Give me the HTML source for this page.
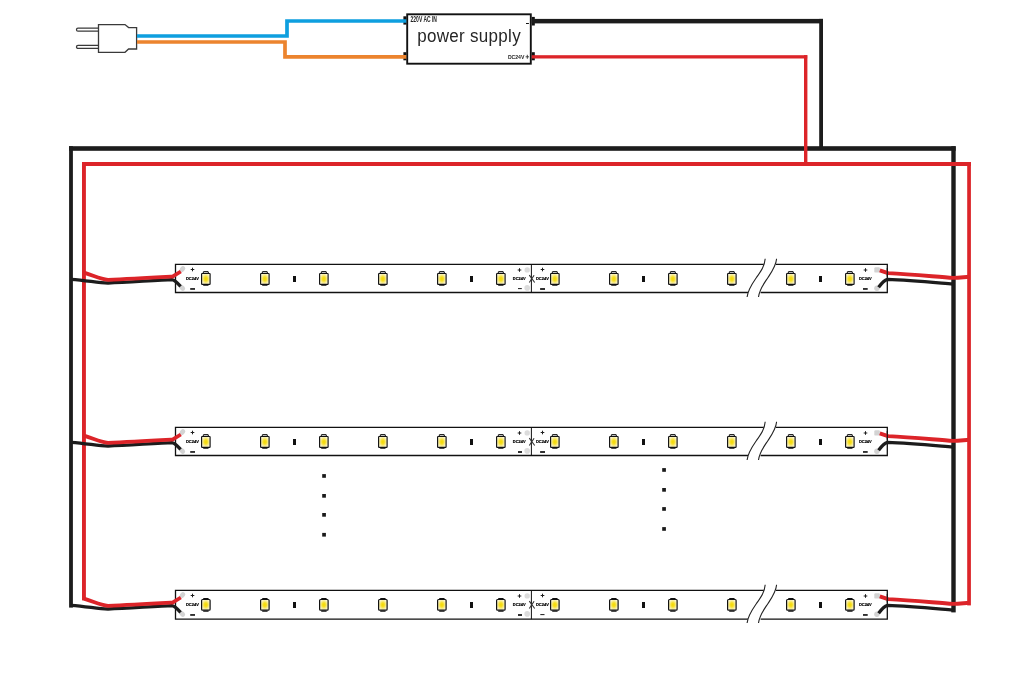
<!DOCTYPE html>
<html><head><meta charset="utf-8"><style>
html,body{margin:0;padding:0;background:#fff;}
svg{display:block;will-change:transform;font-family:"Liberation Sans",sans-serif;}
</style></head><body>
<svg width="1019" height="681" viewBox="0 0 1019 681">
<defs>
<radialGradient id="ly" cx="0.5" cy="0.5" r="0.62">
<stop offset="0" stop-color="#f5d800"/><stop offset="0.3" stop-color="#f6df24"/><stop offset="0.58" stop-color="#f9ec8c"/><stop offset="0.82" stop-color="#fcf6cf"/><stop offset="1" stop-color="#fefbea"/>
</radialGradient>

</defs>
<rect width="1019" height="681" fill="#fff"/>
<!-- plug -->
<path d="M98.5,28.2 H78 A1.5,1.5 0 0 0 78,31.2 H98.5 M98.5,45.4 H78 A1.5,1.5 0 0 0 78,48.4 H98.5" fill="#fff" stroke="#3a3a3a" stroke-width="1.3"/>
<path d="M98.5,24.6 H125 L128.6,27.6 H136.6 V49 H128.6 L125,52.3 H98.5 Z" fill="#fff" stroke="#3a3a3a" stroke-width="1.3"/>
<!-- psu box -->
<rect x="407.2" y="14.3" width="123.6" height="49.4" fill="#fff" stroke="#111" stroke-width="1.9"/>
<rect x="403.4" y="16.3" width="3" height="8.3" fill="#111"/>
<rect x="403.4" y="52.2" width="3" height="8.1" fill="#111"/>
<rect x="531.8" y="16.9" width="3" height="8.6" fill="#111"/>
<rect x="531.8" y="52.2" width="3" height="8.1" fill="#111"/>
<!-- ac wires -->
<path d="M137,36 H287 V21 H406.3" fill="none" stroke="#0e9fdf" stroke-width="3.7"/>
<path d="M137,42 H285 V56.9 H406.3" fill="none" stroke="#ec842e" stroke-width="3.7"/>
<!-- dc wires & frame -->
<g fill="#1c1c1c">
<rect x="531.7" y="18.9" width="291.3" height="4.5"/>
<rect x="819.2" y="18.9" width="3.8" height="129"/>
<rect x="69" y="146.2" width="886.7" height="4.6"/>
<rect x="69.1" y="146.2" width="3.8" height="461.4"/>
<rect x="951.3" y="146.2" width="4.4" height="466.2"/>
</g>
<g fill="#dc2429">
<rect x="531.7" y="55.2" width="275.5" height="3.3"/>
<rect x="804" y="55.1" width="3.4" height="109"/>
<rect x="82" y="162" width="888.9" height="4"/>
<rect x="82" y="162" width="3.9" height="438.4"/>
<rect x="967.2" y="162" width="3.7" height="443.4"/>
</g>
<text x="410.6" y="21.6" font-size="8.2" font-weight="bold" fill="#222" textLength="26.3" lengthAdjust="spacingAndGlyphs">220V AC IN</text>
<text x="417.2" y="0" font-size="17" fill="#262626" textLength="103.5" lengthAdjust="spacing" transform="translate(0,42) scale(1,1.05)">power supply</text>
<rect x="526" y="23" width="2.9" height="1" fill="#111"/>
<text x="507.9" y="59" font-size="5.2" font-weight="bold" fill="#222" textLength="16.5" lengthAdjust="spacingAndGlyphs">DC24V</text>
<path d="M525.6,56.8 H529 M527.3,54.8 V58.8" stroke="#333" stroke-width="0.9"/>
<!-- strips -->
<g>
<path d="M175.5,264.4 H763.8 M775.7,264.4 H887.3 M887.3,263.75 V293.15 M887.3,292.5 H760.6 M748.3,292.5 H175.5 M175.5,293.15 V263.75" fill="none" stroke="#111" stroke-width="1.3"/>
<path d="M531.4,264.4 V292.5" stroke="#111" stroke-width="1"/>
<rect x="203.3" y="271.6" width="5.0" height="1.7" rx="0.3" fill="#fff" stroke="#111" stroke-width="1"/><rect x="201.6" y="273.5" width="8.5" height="10.8" rx="0.6" fill="url(#ly)" stroke="#111" stroke-width="1.15"/><rect x="203.2" y="284.4" width="5.3" height="1.3" rx="0.3" fill="#111"/>
<rect x="262.3" y="271.6" width="5.0" height="1.7" rx="0.3" fill="#fff" stroke="#111" stroke-width="1"/><rect x="260.6" y="273.5" width="8.5" height="10.8" rx="0.6" fill="url(#ly)" stroke="#111" stroke-width="1.15"/><rect x="262.2" y="284.4" width="5.3" height="1.3" rx="0.3" fill="#111"/>
<rect x="321.3" y="271.6" width="5.0" height="1.7" rx="0.3" fill="#fff" stroke="#111" stroke-width="1"/><rect x="319.6" y="273.5" width="8.5" height="10.8" rx="0.6" fill="url(#ly)" stroke="#111" stroke-width="1.15"/><rect x="321.2" y="284.4" width="5.3" height="1.3" rx="0.3" fill="#111"/>
<rect x="380.3" y="271.6" width="5.0" height="1.7" rx="0.3" fill="#fff" stroke="#111" stroke-width="1"/><rect x="378.6" y="273.5" width="8.5" height="10.8" rx="0.6" fill="url(#ly)" stroke="#111" stroke-width="1.15"/><rect x="380.2" y="284.4" width="5.3" height="1.3" rx="0.3" fill="#111"/>
<rect x="439.3" y="271.6" width="5.0" height="1.7" rx="0.3" fill="#fff" stroke="#111" stroke-width="1"/><rect x="437.6" y="273.5" width="8.5" height="10.8" rx="0.6" fill="url(#ly)" stroke="#111" stroke-width="1.15"/><rect x="439.2" y="284.4" width="5.3" height="1.3" rx="0.3" fill="#111"/>
<rect x="498.3" y="271.6" width="5.0" height="1.7" rx="0.3" fill="#fff" stroke="#111" stroke-width="1"/><rect x="496.6" y="273.5" width="8.5" height="10.8" rx="0.6" fill="url(#ly)" stroke="#111" stroke-width="1.15"/><rect x="498.2" y="284.4" width="5.3" height="1.3" rx="0.3" fill="#111"/>
<rect x="552.3" y="271.6" width="5.0" height="1.7" rx="0.3" fill="#fff" stroke="#111" stroke-width="1"/><rect x="550.6" y="273.5" width="8.5" height="10.8" rx="0.6" fill="url(#ly)" stroke="#111" stroke-width="1.15"/><rect x="552.2" y="284.4" width="5.3" height="1.3" rx="0.3" fill="#111"/>
<rect x="611.3" y="271.6" width="5.0" height="1.7" rx="0.3" fill="#fff" stroke="#111" stroke-width="1"/><rect x="609.6" y="273.5" width="8.5" height="10.8" rx="0.6" fill="url(#ly)" stroke="#111" stroke-width="1.15"/><rect x="611.2" y="284.4" width="5.3" height="1.3" rx="0.3" fill="#111"/>
<rect x="670.3" y="271.6" width="5.0" height="1.7" rx="0.3" fill="#fff" stroke="#111" stroke-width="1"/><rect x="668.6" y="273.5" width="8.5" height="10.8" rx="0.6" fill="url(#ly)" stroke="#111" stroke-width="1.15"/><rect x="670.2" y="284.4" width="5.3" height="1.3" rx="0.3" fill="#111"/>
<rect x="729.3" y="271.6" width="5.0" height="1.7" rx="0.3" fill="#fff" stroke="#111" stroke-width="1"/><rect x="727.6" y="273.5" width="8.5" height="10.8" rx="0.6" fill="url(#ly)" stroke="#111" stroke-width="1.15"/><rect x="729.2" y="284.4" width="5.3" height="1.3" rx="0.3" fill="#111"/>
<rect x="788.3" y="271.6" width="5.0" height="1.7" rx="0.3" fill="#fff" stroke="#111" stroke-width="1"/><rect x="786.6" y="273.5" width="8.5" height="10.8" rx="0.6" fill="url(#ly)" stroke="#111" stroke-width="1.15"/><rect x="788.2" y="284.4" width="5.3" height="1.3" rx="0.3" fill="#111"/>
<rect x="847.3" y="271.6" width="5.0" height="1.7" rx="0.3" fill="#fff" stroke="#111" stroke-width="1"/><rect x="845.6" y="273.5" width="8.5" height="10.8" rx="0.6" fill="url(#ly)" stroke="#111" stroke-width="1.15"/><rect x="847.2" y="284.4" width="5.3" height="1.3" rx="0.3" fill="#111"/>
<rect x="293" y="276" width="3" height="6" fill="#111"/>
<rect x="470" y="276" width="3" height="6" fill="#111"/>
<rect x="642" y="276" width="3" height="6" fill="#111"/>
<rect x="819" y="276" width="3" height="6" fill="#111"/>
<circle cx="527.2" cy="269.9" r="2.7" fill="#dcdcdc"/><circle cx="527.2" cy="287.9" r="2.8" fill="#dcdcdc"/>
<path d="M190.7,269.5 H194.3 M192.5,267.7 V271.3" stroke="#1e1e1e" stroke-width="1"/>
<rect x="190.2" y="288.1" width="4.8" height="1.7" fill="#1a1a1a"/>
<text x="186" y="280.3" font-size="4.4" font-weight="bold" fill="#000" stroke="#000" stroke-width="0.2" textLength="12.8" lengthAdjust="spacingAndGlyphs">DC24V</text>
<path d="M517.7,270 H521.3 M519.5,268.2 V271.8" stroke="#1e1e1e" stroke-width="1"/>
<rect x="518" y="288.1" width="3.8" height="1.0" fill="#1a1a1a"/>
<text x="512.8" y="280.3" font-size="4.4" font-weight="bold" fill="#000" stroke="#000" stroke-width="0.2" textLength="12.8" lengthAdjust="spacingAndGlyphs">DC24V</text>
<path d="M540.7,269.5 H544.3 M542.5,267.7 V271.3" stroke="#1e1e1e" stroke-width="1"/>
<rect x="540.1" y="288.1" width="4.9" height="1.8" fill="#1a1a1a"/>
<text x="536" y="280.3" font-size="4.4" font-weight="bold" fill="#000" stroke="#000" stroke-width="0.2" textLength="12.8" lengthAdjust="spacingAndGlyphs">DC24V</text>
<path d="M863.7,270 H867.3 M865.5,268.2 V271.8" stroke="#1e1e1e" stroke-width="1"/>
<rect x="863" y="288.1" width="4.7" height="1.7" fill="#1a1a1a"/>
<text x="858.9" y="280.3" font-size="4.4" font-weight="bold" fill="#000" stroke="#000" stroke-width="0.2" textLength="12.8" lengthAdjust="spacingAndGlyphs">DC24V</text>
<path d="M529.3,275.2 L534.7,282.5 M534.1,275.2 L529.3,282.5" stroke="#333" stroke-width="1.1"/>
<path d="M765.2,258.8 C764.6,266 761,271 756.5,277.5 S748.2,289 747.1,297 L758.5,297 C759.6,289 763.6,283 768,277.5 S776,266 776.6,258.8 Z" fill="#fff" stroke="none"/>
<path d="M765.2,258.8 C764.6,266 761,271 756.5,277.5 S748.2,289 747.1,297 M776.6,258.8 C776,266 772.4,271 768,277.5 S759.6,289 758.5,297" fill="none" stroke="#222" stroke-width="1.1"/>
</g>
<g transform="translate(0,163)">
<path d="M175.5,264.4 H763.8 M775.7,264.4 H887.3 M887.3,263.75 V293.15 M887.3,292.5 H760.6 M748.3,292.5 H175.5 M175.5,293.15 V263.75" fill="none" stroke="#111" stroke-width="1.3"/>
<path d="M531.4,264.4 V292.5" stroke="#111" stroke-width="1"/>
<rect x="203.3" y="271.6" width="5.0" height="1.7" rx="0.3" fill="#fff" stroke="#111" stroke-width="1"/><rect x="201.6" y="273.5" width="8.5" height="10.8" rx="0.6" fill="url(#ly)" stroke="#111" stroke-width="1.15"/><rect x="203.2" y="284.4" width="5.3" height="1.3" rx="0.3" fill="#111"/>
<rect x="262.3" y="271.6" width="5.0" height="1.7" rx="0.3" fill="#fff" stroke="#111" stroke-width="1"/><rect x="260.6" y="273.5" width="8.5" height="10.8" rx="0.6" fill="url(#ly)" stroke="#111" stroke-width="1.15"/><rect x="262.2" y="284.4" width="5.3" height="1.3" rx="0.3" fill="#111"/>
<rect x="321.3" y="271.6" width="5.0" height="1.7" rx="0.3" fill="#fff" stroke="#111" stroke-width="1"/><rect x="319.6" y="273.5" width="8.5" height="10.8" rx="0.6" fill="url(#ly)" stroke="#111" stroke-width="1.15"/><rect x="321.2" y="284.4" width="5.3" height="1.3" rx="0.3" fill="#111"/>
<rect x="380.3" y="271.6" width="5.0" height="1.7" rx="0.3" fill="#fff" stroke="#111" stroke-width="1"/><rect x="378.6" y="273.5" width="8.5" height="10.8" rx="0.6" fill="url(#ly)" stroke="#111" stroke-width="1.15"/><rect x="380.2" y="284.4" width="5.3" height="1.3" rx="0.3" fill="#111"/>
<rect x="439.3" y="271.6" width="5.0" height="1.7" rx="0.3" fill="#fff" stroke="#111" stroke-width="1"/><rect x="437.6" y="273.5" width="8.5" height="10.8" rx="0.6" fill="url(#ly)" stroke="#111" stroke-width="1.15"/><rect x="439.2" y="284.4" width="5.3" height="1.3" rx="0.3" fill="#111"/>
<rect x="498.3" y="271.6" width="5.0" height="1.7" rx="0.3" fill="#fff" stroke="#111" stroke-width="1"/><rect x="496.6" y="273.5" width="8.5" height="10.8" rx="0.6" fill="url(#ly)" stroke="#111" stroke-width="1.15"/><rect x="498.2" y="284.4" width="5.3" height="1.3" rx="0.3" fill="#111"/>
<rect x="552.3" y="271.6" width="5.0" height="1.7" rx="0.3" fill="#fff" stroke="#111" stroke-width="1"/><rect x="550.6" y="273.5" width="8.5" height="10.8" rx="0.6" fill="url(#ly)" stroke="#111" stroke-width="1.15"/><rect x="552.2" y="284.4" width="5.3" height="1.3" rx="0.3" fill="#111"/>
<rect x="611.3" y="271.6" width="5.0" height="1.7" rx="0.3" fill="#fff" stroke="#111" stroke-width="1"/><rect x="609.6" y="273.5" width="8.5" height="10.8" rx="0.6" fill="url(#ly)" stroke="#111" stroke-width="1.15"/><rect x="611.2" y="284.4" width="5.3" height="1.3" rx="0.3" fill="#111"/>
<rect x="670.3" y="271.6" width="5.0" height="1.7" rx="0.3" fill="#fff" stroke="#111" stroke-width="1"/><rect x="668.6" y="273.5" width="8.5" height="10.8" rx="0.6" fill="url(#ly)" stroke="#111" stroke-width="1.15"/><rect x="670.2" y="284.4" width="5.3" height="1.3" rx="0.3" fill="#111"/>
<rect x="729.3" y="271.6" width="5.0" height="1.7" rx="0.3" fill="#fff" stroke="#111" stroke-width="1"/><rect x="727.6" y="273.5" width="8.5" height="10.8" rx="0.6" fill="url(#ly)" stroke="#111" stroke-width="1.15"/><rect x="729.2" y="284.4" width="5.3" height="1.3" rx="0.3" fill="#111"/>
<rect x="788.3" y="271.6" width="5.0" height="1.7" rx="0.3" fill="#fff" stroke="#111" stroke-width="1"/><rect x="786.6" y="273.5" width="8.5" height="10.8" rx="0.6" fill="url(#ly)" stroke="#111" stroke-width="1.15"/><rect x="788.2" y="284.4" width="5.3" height="1.3" rx="0.3" fill="#111"/>
<rect x="847.3" y="271.6" width="5.0" height="1.7" rx="0.3" fill="#fff" stroke="#111" stroke-width="1"/><rect x="845.6" y="273.5" width="8.5" height="10.8" rx="0.6" fill="url(#ly)" stroke="#111" stroke-width="1.15"/><rect x="847.2" y="284.4" width="5.3" height="1.3" rx="0.3" fill="#111"/>
<rect x="293" y="276" width="3" height="6" fill="#111"/>
<rect x="470" y="276" width="3" height="6" fill="#111"/>
<rect x="642" y="276" width="3" height="6" fill="#111"/>
<rect x="819" y="276" width="3" height="6" fill="#111"/>
<circle cx="527.2" cy="269.9" r="2.7" fill="#dcdcdc"/><circle cx="527.2" cy="287.9" r="2.8" fill="#dcdcdc"/>
<path d="M190.7,269.5 H194.3 M192.5,267.7 V271.3" stroke="#1e1e1e" stroke-width="1"/>
<rect x="190.2" y="288.1" width="4.8" height="1.7" fill="#1a1a1a"/>
<text x="186" y="280.3" font-size="4.4" font-weight="bold" fill="#000" stroke="#000" stroke-width="0.2" textLength="12.8" lengthAdjust="spacingAndGlyphs">DC24V</text>
<path d="M517.7,270 H521.3 M519.5,268.2 V271.8" stroke="#1e1e1e" stroke-width="1"/>
<rect x="518" y="288.1" width="4.0" height="1.8" fill="#1a1a1a"/>
<text x="512.8" y="280.3" font-size="4.4" font-weight="bold" fill="#000" stroke="#000" stroke-width="0.2" textLength="12.8" lengthAdjust="spacingAndGlyphs">DC24V</text>
<path d="M540.7,269.5 H544.3 M542.5,267.7 V271.3" stroke="#1e1e1e" stroke-width="1"/>
<rect x="540.1" y="288.1" width="4.9" height="1.8" fill="#1a1a1a"/>
<text x="536" y="280.3" font-size="4.4" font-weight="bold" fill="#000" stroke="#000" stroke-width="0.2" textLength="12.8" lengthAdjust="spacingAndGlyphs">DC24V</text>
<path d="M863.7,270 H867.3 M865.5,268.2 V271.8" stroke="#1e1e1e" stroke-width="1"/>
<rect x="863" y="288.1" width="4.7" height="1.7" fill="#1a1a1a"/>
<text x="858.9" y="280.3" font-size="4.4" font-weight="bold" fill="#000" stroke="#000" stroke-width="0.2" textLength="12.8" lengthAdjust="spacingAndGlyphs">DC24V</text>
<path d="M529.3,275.2 L534.7,282.5 M534.1,275.2 L529.3,282.5" stroke="#333" stroke-width="1.1"/>
<path d="M765.2,258.8 C764.6,266 761,271 756.5,277.5 S748.2,289 747.1,297 L758.5,297 C759.6,289 763.6,283 768,277.5 S776,266 776.6,258.8 Z" fill="#fff" stroke="none"/>
<path d="M765.2,258.8 C764.6,266 761,271 756.5,277.5 S748.2,289 747.1,297 M776.6,258.8 C776,266 772.4,271 768,277.5 S759.6,289 758.5,297" fill="none" stroke="#222" stroke-width="1.1"/>
</g>
<g transform="translate(0,326)">
<path d="M175.5,264.4 H763.8 M775.7,264.4 H887.3 M887.3,263.75 V293.84999999999997 M887.3,293.2 H760.6 M748.3,293.2 H175.5 M175.5,293.84999999999997 V263.75" fill="none" stroke="#111" stroke-width="1.3"/>
<path d="M531.4,264.4 V293.2" stroke="#111" stroke-width="1"/>
<rect x="203.2" y="271.9" width="5.4" height="1.2" rx="0.3" fill="#111"/><rect x="201.6" y="273.5" width="8.5" height="10.6" rx="0.9" fill="url(#ly)" stroke="#111" stroke-width="1.2"/><rect x="203.2" y="284.5" width="5.4" height="1.2" rx="0.3" fill="#111"/>
<rect x="262.2" y="271.9" width="5.4" height="1.2" rx="0.3" fill="#111"/><rect x="260.6" y="273.5" width="8.5" height="10.6" rx="0.9" fill="url(#ly)" stroke="#111" stroke-width="1.2"/><rect x="262.2" y="284.5" width="5.4" height="1.2" rx="0.3" fill="#111"/>
<rect x="321.2" y="271.9" width="5.4" height="1.2" rx="0.3" fill="#111"/><rect x="319.6" y="273.5" width="8.5" height="10.6" rx="0.9" fill="url(#ly)" stroke="#111" stroke-width="1.2"/><rect x="321.2" y="284.5" width="5.4" height="1.2" rx="0.3" fill="#111"/>
<rect x="380.2" y="271.9" width="5.4" height="1.2" rx="0.3" fill="#111"/><rect x="378.6" y="273.5" width="8.5" height="10.6" rx="0.9" fill="url(#ly)" stroke="#111" stroke-width="1.2"/><rect x="380.2" y="284.5" width="5.4" height="1.2" rx="0.3" fill="#111"/>
<rect x="439.2" y="271.9" width="5.4" height="1.2" rx="0.3" fill="#111"/><rect x="437.6" y="273.5" width="8.5" height="10.6" rx="0.9" fill="url(#ly)" stroke="#111" stroke-width="1.2"/><rect x="439.2" y="284.5" width="5.4" height="1.2" rx="0.3" fill="#111"/>
<rect x="498.2" y="271.9" width="5.4" height="1.2" rx="0.3" fill="#111"/><rect x="496.6" y="273.5" width="8.5" height="10.6" rx="0.9" fill="url(#ly)" stroke="#111" stroke-width="1.2"/><rect x="498.2" y="284.5" width="5.4" height="1.2" rx="0.3" fill="#111"/>
<rect x="552.2" y="271.9" width="5.4" height="1.2" rx="0.3" fill="#111"/><rect x="550.6" y="273.5" width="8.5" height="10.6" rx="0.9" fill="url(#ly)" stroke="#111" stroke-width="1.2"/><rect x="552.2" y="284.5" width="5.4" height="1.2" rx="0.3" fill="#111"/>
<rect x="611.2" y="271.9" width="5.4" height="1.2" rx="0.3" fill="#111"/><rect x="609.6" y="273.5" width="8.5" height="10.6" rx="0.9" fill="url(#ly)" stroke="#111" stroke-width="1.2"/><rect x="611.2" y="284.5" width="5.4" height="1.2" rx="0.3" fill="#111"/>
<rect x="670.2" y="271.9" width="5.4" height="1.2" rx="0.3" fill="#111"/><rect x="668.6" y="273.5" width="8.5" height="10.6" rx="0.9" fill="url(#ly)" stroke="#111" stroke-width="1.2"/><rect x="670.2" y="284.5" width="5.4" height="1.2" rx="0.3" fill="#111"/>
<rect x="729.2" y="271.9" width="5.4" height="1.2" rx="0.3" fill="#111"/><rect x="727.6" y="273.5" width="8.5" height="10.6" rx="0.9" fill="url(#ly)" stroke="#111" stroke-width="1.2"/><rect x="729.2" y="284.5" width="5.4" height="1.2" rx="0.3" fill="#111"/>
<rect x="788.2" y="271.9" width="5.4" height="1.2" rx="0.3" fill="#111"/><rect x="786.6" y="273.5" width="8.5" height="10.6" rx="0.9" fill="url(#ly)" stroke="#111" stroke-width="1.2"/><rect x="788.2" y="284.5" width="5.4" height="1.2" rx="0.3" fill="#111"/>
<rect x="847.2" y="271.9" width="5.4" height="1.2" rx="0.3" fill="#111"/><rect x="845.6" y="273.5" width="8.5" height="10.6" rx="0.9" fill="url(#ly)" stroke="#111" stroke-width="1.2"/><rect x="847.2" y="284.5" width="5.4" height="1.2" rx="0.3" fill="#111"/>
<rect x="293" y="276" width="3" height="6" fill="#111"/>
<rect x="470" y="276" width="3" height="6" fill="#111"/>
<rect x="642" y="276" width="3" height="6" fill="#111"/>
<rect x="819" y="276" width="3" height="6" fill="#111"/>
<circle cx="527.2" cy="269.9" r="2.7" fill="#dcdcdc"/><circle cx="527.2" cy="287.9" r="2.8" fill="#dcdcdc"/>
<path d="M190.7,269.5 H194.3 M192.5,267.7 V271.3" stroke="#1e1e1e" stroke-width="1"/>
<rect x="190.2" y="288.1" width="4.8" height="1.7" fill="#1a1a1a"/>
<text x="186" y="280.3" font-size="4.4" font-weight="bold" fill="#000" stroke="#000" stroke-width="0.2" textLength="12.8" lengthAdjust="spacingAndGlyphs">DC24V</text>
<path d="M517.7,270 H521.3 M519.5,268.2 V271.8" stroke="#1e1e1e" stroke-width="1"/>
<rect x="518" y="288.1" width="4.0" height="1.8" fill="#1a1a1a"/>
<text x="512.8" y="280.3" font-size="4.4" font-weight="bold" fill="#000" stroke="#000" stroke-width="0.2" textLength="12.8" lengthAdjust="spacingAndGlyphs">DC24V</text>
<path d="M540.7,269.5 H544.3 M542.5,267.7 V271.3" stroke="#1e1e1e" stroke-width="1"/>
<rect x="540.3" y="288.1" width="4.2" height="1.0" fill="#1a1a1a"/>
<text x="536" y="280.3" font-size="4.4" font-weight="bold" fill="#000" stroke="#000" stroke-width="0.2" textLength="12.8" lengthAdjust="spacingAndGlyphs">DC24V</text>
<path d="M863.7,270 H867.3 M865.5,268.2 V271.8" stroke="#1e1e1e" stroke-width="1"/>
<rect x="863" y="288.1" width="4.7" height="1.7" fill="#1a1a1a"/>
<text x="858.9" y="280.3" font-size="4.4" font-weight="bold" fill="#000" stroke="#000" stroke-width="0.2" textLength="12.8" lengthAdjust="spacingAndGlyphs">DC24V</text>
<path d="M529.3,275.2 L534.7,282.5 M534.1,275.2 L529.3,282.5" stroke="#333" stroke-width="1.1"/>
<path d="M765.2,258.8 C764.6,266 761,271 756.5,277.5 S748.2,289 747.1,297 L758.5,297 C759.6,289 763.6,283 768,277.5 S776,266 776.6,258.8 Z" fill="#fff" stroke="none"/>
<path d="M765.2,258.8 C764.6,266 761,271 756.5,277.5 S748.2,289 747.1,297 M776.6,258.8 C776,266 772.4,271 768,277.5 S759.6,289 758.5,297" fill="none" stroke="#222" stroke-width="1.1"/>
</g>
<!-- wires -->
<g><path d="M181.9,269.6 L183,268.4" stroke="#d3d3d3" stroke-width="4.6" stroke-linecap="round"/>
<path d="M181.7,287.4 L182.8,288.5" stroke="#d3d3d3" stroke-width="4.6" stroke-linecap="round"/>
<rect x="874.3" y="267.2" width="5.6" height="5.4" rx="1.2" fill="#d3d3d3"/>
<circle cx="876.9" cy="288.2" r="2.7" fill="#d3d3d3"/>
<path d="M71,279.3 C88,280.5 98,283 108,283 C130,282 160,280 172,279.6 Q175,280 180.6,286.4" fill="none" stroke="#1c1c1c" stroke-width="3.3" stroke-linejoin="round"/>
<path d="M84,272.6 C95,276 100,279 108,279.8 C130,279 160,277.3 172.5,276.6 L180.8,271.5" fill="none" stroke="#dc2429" stroke-width="3.8" stroke-linejoin="round"/>
<path d="M878.6,287.2 Q883.5,280.5 887.5,279.3 C910,280 935,282.5 953,284" fill="none" stroke="#1c1c1c" stroke-width="3.3" stroke-linejoin="round"/>
<path d="M879.8,270.3 L888,273.1 C915,274.3 940,277.3 953,277.9 C960,277.6 965,277 969,276.8" fill="none" stroke="#dc2429" stroke-width="3.9" stroke-linejoin="round"/>
<path d="M887.3,268 V276.5" stroke="#111" stroke-width="1.1"/></g>
<g transform="translate(0,163)"><path d="M181.9,269.6 L183,268.4" stroke="#d3d3d3" stroke-width="4.6" stroke-linecap="round"/>
<path d="M181.7,287.4 L182.8,288.5" stroke="#d3d3d3" stroke-width="4.6" stroke-linecap="round"/>
<rect x="874.3" y="267.2" width="5.6" height="5.4" rx="1.2" fill="#d3d3d3"/>
<circle cx="876.9" cy="288.2" r="2.7" fill="#d3d3d3"/>
<path d="M71,279.3 C88,280.5 98,283 108,283 C130,282 160,280 172,279.6 Q175,280 180.6,286.4" fill="none" stroke="#1c1c1c" stroke-width="3.3" stroke-linejoin="round"/>
<path d="M84,272.6 C95,276 100,279 108,279.8 C130,279 160,277.3 172.5,276.6 L180.8,271.5" fill="none" stroke="#dc2429" stroke-width="3.8" stroke-linejoin="round"/>
<path d="M878.6,287.2 Q883.5,280.5 887.5,279.3 C910,280 935,282.5 953,284" fill="none" stroke="#1c1c1c" stroke-width="3.3" stroke-linejoin="round"/>
<path d="M879.8,270.3 L888,273.1 C915,274.3 940,277.3 953,277.9 C960,277.6 965,277 969,276.8" fill="none" stroke="#dc2429" stroke-width="3.9" stroke-linejoin="round"/>
<path d="M887.3,268 V276.5" stroke="#111" stroke-width="1.1"/></g>
<g transform="translate(0,326)"><path d="M181.9,269.6 L183,268.4" stroke="#d3d3d3" stroke-width="4.6" stroke-linecap="round"/>
<path d="M181.7,287.4 L182.8,288.5" stroke="#d3d3d3" stroke-width="4.6" stroke-linecap="round"/>
<rect x="874.3" y="267.2" width="5.6" height="5.4" rx="1.2" fill="#d3d3d3"/>
<circle cx="876.9" cy="288.2" r="2.7" fill="#d3d3d3"/>
<path d="M71,279.3 C88,280.5 98,283 108,283 C130,282 160,280 172,279.6 Q175,280 180.6,286.4" fill="none" stroke="#1c1c1c" stroke-width="3.3" stroke-linejoin="round"/>
<path d="M84,272.6 C95,276 100,279 108,279.8 C130,279 160,277.3 172.5,276.6 L180.8,271.5" fill="none" stroke="#dc2429" stroke-width="3.8" stroke-linejoin="round"/>
<path d="M878.6,287.2 Q883.5,280.5 887.5,279.3 C910,280 935,282.5 953,284" fill="none" stroke="#1c1c1c" stroke-width="3.3" stroke-linejoin="round"/>
<path d="M879.8,270.3 L888,273.1 C915,274.3 940,277.3 953,277.9 C960,277.6 965,277 969,276.8" fill="none" stroke="#dc2429" stroke-width="3.9" stroke-linejoin="round"/>
<path d="M887.3,268 V276.5" stroke="#111" stroke-width="1.1"/></g>
<!-- dots -->
<g fill="#1a1a1a">
<rect x="322.2" y="474.1" width="3.7" height="3.7"/><rect x="322.2" y="494" width="3.7" height="3.7"/><rect x="322.2" y="513" width="3.7" height="3.7"/><rect x="322.2" y="532.9" width="3.7" height="3.7"/>
<rect x="662.2" y="468.1" width="3.7" height="3.7"/><rect x="662.2" y="488" width="3.7" height="3.7"/><rect x="662.2" y="507.1" width="3.7" height="3.7"/><rect x="662.2" y="527.1" width="3.7" height="3.7"/>
</g>
</svg>
</body></html>
